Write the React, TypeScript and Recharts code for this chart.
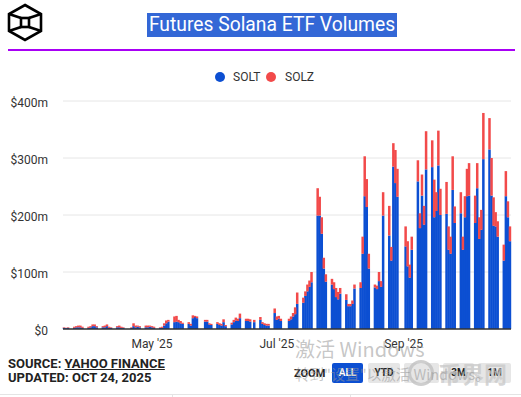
import React from 'react';
import { BarChart, Bar, XAxis, YAxis, CartesianGrid } from 'recharts';

// ---- data ----
const startDate = '2025-03-19';
const endDate = '2025-10-23';
const marketHolidays = ['2025-04-18', '2025-05-26', '2025-06-19', '2025-07-04', '2025-09-01'];

// SOLT daily volume ($m), one entry per trading day
const soltValues = [
  2, 1.5, 2,
  2, 3, 3, 3, 2,
  2, 3, 5, 5, 3,
  3, 3, 5, 2, 2,
  3, 3, 2, 2,
  2, 5, 3, 4, 3,
  3, 3, 4, 3, 2,
  2, 2, 6, 10, 13,
  12, 13, 12, 10, 9,
  9, 6, 19, 21, 19,
  13, 13, 8, 7,
  9, 7, 6, 12, 5,
  8, 12, 15, 14, 19,
  14, 14, 13, 12,
  16, 9, 7, 6, 6,
  28, 16, 18, 14,
  14, 17, 22, 26, 44,
  46, 58, 66, 74, 82,
  199, 199, 167, 106, 83,
  78, 70, 56, 52, 62,
  51, 40, 40, 44, 71,
  72, 132, 233, 214, 106,
  73, 70, 84, 74, 199,
  164, 120, 285, 256, 232,
  145, 110, 90, 139,
  259, 177, 234, 183, 280,
  284, 196, 207, 287, 200,
  202, 139, 132, 244, 186,
  203, 139, 196, 233, 234,
  186, 247, 158, 174, 298,
  315, 234, 181, 180, 162,
  120, 233, 196, 154,
];

// SOLZ daily volume ($m), one entry per trading day
const solzValues = [
  1, 0.5, 1,
  2, 2, 3, 3, 2,
  2, 2, 3, 3, 2,
  2, 3, 3, 2, 1,
  2, 3, 2, 1,
  1, 5, 3, 2, 2,
  3, 3, 2, 2, 2,
  1, 2, 4, 5, 3,
  10, 10, 4, 4, 2,
  3, 3, 5, 2, 3,
  3, 3, 2, 2,
  3, 3, 3, 5, 2,
  3, 4, 5, 4, 8,
  4, 4, 4, 4,
  5, 3, 3, 3, 3,
  8, 6, 5, 4,
  4, 5, 6, 12, 20,
  9, 8, 12, 11, 18,
  48, 33, 29, 19, 13,
  10, 12, 16, 13, 10,
  10, 4, 4, 6, 7,
  10, 30, 70, 49, 26,
  5, 6, 16, 10, 41,
  52, 24, 41, 58, 49,
  35, 44, 23, 23,
  37, 26, 37, 33, 67,
  47, 66, 33, 61, 46,
  56, 41, 30, 59, 29,
  37, 23, 37, 48, 57,
  48, 44, 38, 35, 81,
  55, 66, 50, 25, 27,
  28, 44, 28, 26,
];

const seriesNames = ['SOLT', 'SOLZ'];
const seriesColors = ['#0c4fd2', '#f24a4a'];
const xTickDates = ['2025-05-01', '2025-07-01', '2025-09-01'];
const xTickLabels = ["May '25", "Jul '25", "Sep '25"];
const yTicks = [0, 100, 200, 300, 400];
const yTickLabels = ['$0', '$100m', '$200m', '$300m', '$400m'];
const zoomButtons = ['ALL', 'YTD', '', '3M', '1M'];

function buildData() {
  const out: any[] = [];
  let k = 0;
  const s = Date.parse(startDate + 'T00:00:00Z');
  const e = Date.parse(endDate + 'T00:00:00Z');
  for (let t = s; t <= e; t += 86400000) {
    const d = new Date(t);
    const iso = d.toISOString().slice(0, 10);
    const wd = d.getUTCDay();
    const trading = wd !== 0 && wd !== 6 && !marketHolidays.includes(iso);
    if (trading && k < soltValues.length) {
      out.push({ date: iso, SOLT: soltValues[k], SOLZ: solzValues[k] });
      k++;
    } else {
      out.push({ date: iso, SOLT: null, SOLZ: null });
    }
  }
  return out;
}

const data = buildData();
const FONT = 'Roboto, "Noto Sans", sans-serif';

const XTick = (props: any) => {
  const { x, y, payload } = props;
  const i = xTickDates.indexOf(payload.value);
  if (i < 0) return <g />;
  return (
    <text x={x} y={y} dy="0.71em" textAnchor="middle" fontSize={12} fill="#333" fontFamily={FONT}>
      {xTickLabels[i]}
    </text>
  );
};

const YTick = (props: any) => {
  const { x, y, payload } = props;
  const i = yTicks.indexOf(payload.value);
  return (
    <text x={x} y={y} dy={5.5} textAnchor="end" fontSize={12} fill="#333" fontFamily={FONT}>
      {i >= 0 ? yTickLabels[i] : ''}
    </text>
  );
};

// widen each bar slightly so neighbouring days touch, as in the reference
const WideBar = (props: any) => {
  const { x, y, width, height, fill } = props;
  if (!height || height <= 0 || x == null) return <g />;
  return <rect x={x - 0.25} y={y} width={width + 0.5} height={height} fill={fill} />;
};

const Logo = () => (
  <svg width={40} height={42} style={{ position: 'absolute', left: 5, top: 1 }}>
    <g fill="none" stroke="#000" strokeWidth={2.6} strokeLinejoin="miter">
      <polygon points="20,4 36,13 36,30 20,39 4,30 4,13" />
      <rect x={16} y={17} width={8} height={9} />
      <line x1={4} y1={13} x2={16} y2={17} />
      <line x1={36} y1={13} x2={24} y2={17} />
      <line x1={4} y1={30} x2={16} y2={26} />
      <line x1={36} y1={30} x2={24} y2={26} />
    </g>
  </svg>
);

export default function App() {
  return (
    <div style={{ position: 'absolute', left: 0, top: 0, width: 521, height: 397, background: '#fff', fontFamily: FONT, overflow: 'hidden' }}>
      <Logo />
      <div
        style={{
          position: 'absolute', left: 147, top: 13, width: 250, height: 24,
          background: '#3367d6', color: '#fff', fontSize: 19.3, lineHeight: '24px',
          textAlign: 'center', whiteSpace: 'nowrap', fontFamily: FONT,
        }}
      >
        Futures Solana ETF Volumes
      </div>
      <div style={{ position: 'absolute', left: 8, top: 49, width: 507, height: 2, background: '#a800f5' }} />

      {/* legend */}
      <div style={{ position: 'absolute', left: 215, top: 72, width: 10, height: 10, borderRadius: 5, background: seriesColors[0] }} />
      <div style={{ position: 'absolute', left: 233, top: 70, fontSize: 12, lineHeight: '14px', color: '#333' }}>{seriesNames[0]}</div>
      <div style={{ position: 'absolute', left: 266, top: 72, width: 10, height: 10, borderRadius: 5, background: seriesColors[1] }} />
      <div style={{ position: 'absolute', left: 285, top: 70, fontSize: 12, lineHeight: '14px', color: '#333' }}>{seriesNames[1]}</div>

      <div style={{ position: 'absolute', left: 0, top: 0 }}>
        <BarChart
          width={521}
          height={370}
          data={data}
          margin={{ top: 101, right: 10, left: 0, bottom: 11 }}
          barCategoryGap={0}
          barGap={0}
        >
          <CartesianGrid vertical={false} stroke="#e6e6e6" />
          <XAxis
            dataKey="date"
            type="category"
            interval={0}
            height={30}
            tickLine={false}
            tickSize={6}
            tickMargin={4}
            axisLine={{ stroke: '#333', strokeWidth: 1.5 }}
            tick={<XTick />}
          />
          <YAxis
            width={63}
            domain={[0, 400]}
            ticks={yTicks}
            axisLine={false}
            tickLine={false}
            tickSize={6}
            tickMargin={9}
            tick={<YTick />}
          />
          <Bar dataKey="SOLT" stackId="v" fill={seriesColors[0]} shape={<WideBar />} isAnimationActive={false} />
          <Bar dataKey="SOLZ" stackId="v" fill={seriesColors[1]} shape={<WideBar />} isAnimationActive={false} />
        </BarChart>
      </div>

      {/* footer */}
      <div style={{ position: 'absolute', left: 8, top: 356, fontSize: 13, fontWeight: 700, color: '#222', lineHeight: '15px', whiteSpace: 'nowrap' }}>
        SOURCE: <span style={{ textDecoration: 'underline' }}>YAHOO FINANCE</span>
      </div>
      <div style={{ position: 'absolute', left: 8, top: 370, fontSize: 13, fontWeight: 700, color: '#222', lineHeight: '15px', whiteSpace: 'nowrap' }}>
        UPDATED: OCT 24, 2025
      </div>

      <div style={{ position: 'absolute', left: 294, top: 367, fontSize: 11, fontWeight: 700, color: '#222', lineHeight: '13px' }}>ZOOM</div>
      {zoomButtons.map((b, i) => {
        const lefts = [332, 368, 404, 443, 478];
        const widths = [31, 32, 35, 31, 33];
        return (
          <div
            key={i}
            style={{
              position: 'absolute', left: lefts[i], top: 363, width: widths[i], height: 20,
              background: i === 0 ? '#0c4fd2' : '#e6e6e6', borderRadius: 2,
              color: i === 0 ? '#fff' : '#222', fontSize: 10, fontWeight: 700,
              lineHeight: '20px', textAlign: 'center',
            }}
          >
            {b}
          </div>
        );
      })}

      {/* overlays seen in the picture */}
      <div style={{ position: 'absolute', left: 408, top: 360, width: 26, height: 26, borderRadius: 13, border: '3px solid rgba(190,190,190,0.75)', boxSizing: 'border-box' }} />
      <div style={{ position: 'absolute', left: 438, top: 359, fontSize: 23, fontWeight: 700, color: 'rgba(200,200,200,0.75)', lineHeight: '28px', fontFamily: '"Noto Sans CJK SC", sans-serif' }}>币界网</div>
      <div style={{ position: 'absolute', left: 295, top: 337, fontSize: 20, color: 'rgba(150,150,150,0.55)', lineHeight: '24px', whiteSpace: 'nowrap', fontFamily: '"Noto Sans CJK SC", "Noto Sans", sans-serif' }}>激活 Windows</div>
      <div style={{ position: 'absolute', left: 295, top: 364, fontSize: 14.5, color: 'rgba(150,150,150,0.55)', lineHeight: '20px', whiteSpace: 'nowrap', fontFamily: '"Noto Sans CJK SC", "Noto Sans", sans-serif' }}>转到"设置"以激活 Windows。</div>

      <div style={{ position: 'absolute', left: 0, top: 394, width: 521, height: 1, background: '#e4e4e4' }} />
      <div style={{ position: 'absolute', left: 172, top: 394, width: 1, height: 3, background: '#e4e4e4' }} />
      <div style={{ position: 'absolute', left: 350, top: 394, width: 1, height: 3, background: '#e4e4e4' }} />
    </div>
  );
}
